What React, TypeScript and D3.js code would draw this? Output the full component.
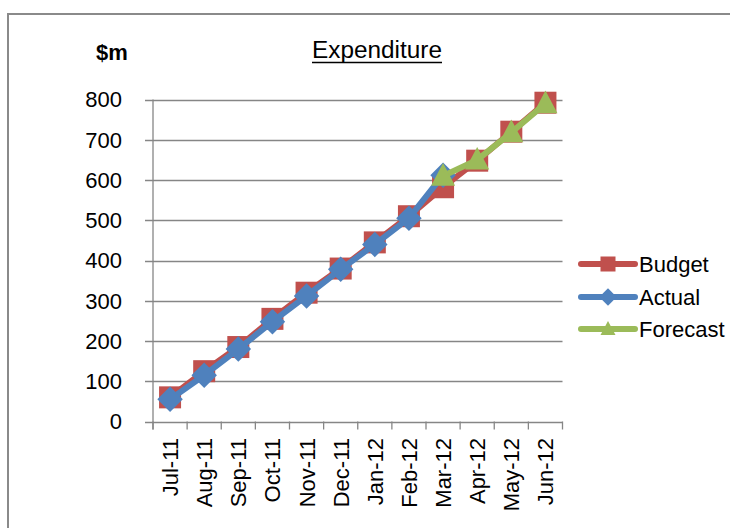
import React from "react";
import * as d3 from "d3";

const categories = ["Jul-11","Aug-11","Sep-11","Oct-11","Nov-11","Dec-11","Jan-12","Feb-12","Mar-12","Apr-12","May-12","Jun-12"];
const budget = [60,125,185,255,320,380,445,510,582,648,720,792];
const actual: (number|null)[] = [55,115,180,248,312,378,440,505,612,null,null,null];
const forecast: (number|null)[] = [null,null,null,null,null,null,null,null,610,650,718,790];
const yTicks = [0,100,200,300,400,500,600,700,800];
const seriesNames = ["Budget","Actual","Forecast"];
const seriesColors = ["#C0504D","#4F81BD","#9BBB59"];

const FONT = "'Liberation Sans', Arial, sans-serif";

function marker(kind: number, x: number, y: number, s: number, color: string, key: any) {
  if (kind === 0) {
    return <rect key={key} x={x - s / 2} y={y - s / 2} width={s} height={s} fill={color} />;
  }
  if (kind === 1) {
    const r = s * 0.58;
    return <path key={key} d={`M${x},${y - r}L${x + r},${y}L${x},${y + r}L${x - r},${y}Z`} fill={color} />;
  }
  const h = s * 0.9;
  return <path key={key} d={`M${x},${y - h * 0.6}L${x + s / 2},${y + h * 0.45}L${x - s / 2},${y + h * 0.45}Z`} fill={color} />;
}

export default function App() {
  const x = d3.scaleBand().domain(categories).range([153, 562.5]).padding(0);
  const y = d3.scaleLinear().domain([0, 800]).range([421.5, 99.5]);
  const cx = (c: string) => (x(c) as number) + x.bandwidth() / 2;
  const data = [budget, actual, forecast];
  const line = d3.line<[string, number | null]>()
    .defined(d => d[1] !== null)
    .x(d => cx(d[0]))
    .y(d => y(d[1] as number));
  const bounds = categories.map(c => x(c) as number).concat([x.range()[1]]);

  return (
    <svg width={730} height={528} style={{ position: "absolute", left: 0, top: 0, background: "#fff" }}>
      <rect x={0} y={0} width={730} height={528} fill="#fff" />
      <rect x={8} y={14} width={800} height={600} fill="none" stroke="#8a8a8a" strokeWidth={2} />
      <text x={96} y={60} fontFamily={FONT} fontWeight="bold" fontSize={22} fill="#000">$m</text>
      <text x={312} y={58} fontFamily={FONT} fontSize={23} fill="#000" textLength={130} lengthAdjust="spacingAndGlyphs">Expenditure</text>
      <line x1={312} x2={442} y1={62.5} y2={62.5} stroke="#000" strokeWidth={1.5} />
      {yTicks.map(t => (
        <g key={t}>
          <line x1={145} x2={562.5} y1={Math.round(y(t)) + 0.5} y2={Math.round(y(t)) + 0.5} stroke="#868686" strokeWidth={1.3} />
          <text x={122} y={y(t)} dy="0.36em" textAnchor="end" fontFamily={FONT} fontSize={22} fill="#000">{t}</text>
        </g>
      ))}
      <line x1={153} x2={153} y1={y(800)} y2={429.5} stroke="#868686" strokeWidth={1.3} />
      {bounds.map((b, i) => (
        <line key={i} x1={b} x2={b} y1={421.5} y2={429.5} stroke="#868686" strokeWidth={1.3} />
      ))}
      {categories.map(c => (
        <text key={c} transform={`translate(${cx(c) + 8},438) rotate(-90)`} textAnchor="end" fontFamily={FONT} fontSize={22} fill="#000">{c}</text>
      ))}
      {data.map((s, si) => (
        <g key={si}>
          <path d={line(categories.map((c, i) => [c, s[i]] as [string, number | null])) || ""} fill="none" stroke={seriesColors[si]} strokeWidth={6} strokeLinejoin="round" strokeLinecap="round" />
          {categories.map((c, i) => s[i] === null ? null : marker(si, cx(c), y(s[i] as number), si === 0 ? 22 : si === 1 ? 22 : 24, seriesColors[si], i))}
        </g>
      ))}
      {seriesNames.map((n, i) => {
        const ly = [264, 297, 329][i];
        return (
          <g key={n}>
            <line x1={581} x2={635} y1={ly} y2={ly} stroke={seriesColors[i]} strokeWidth={6} strokeLinecap="round" />
            {marker(i, 608, ly, 15, seriesColors[i], "m")}
            <text x={639} y={ly} dy="0.36em" fontFamily={FONT} fontSize={22} fill="#000">{n}</text>
          </g>
        );
      })}
    </svg>
  );
}
